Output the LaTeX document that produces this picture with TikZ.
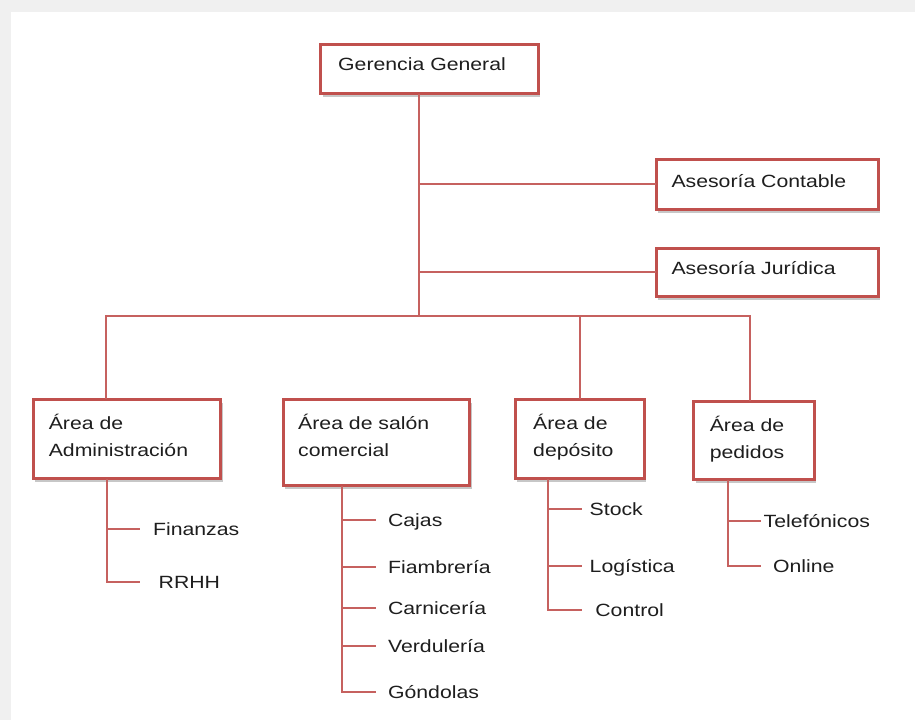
\documentclass[tikz,border=0pt]{standalone}
\usepackage{fontspec}
\setmainfont{Liberation Sans}[FakeStretch=1.2]
\usetikzlibrary{shadows}

\begin{document}
\begin{tikzpicture}[x=0.5pt,y=-0.5pt,line cap=rect,line join=miter,
  font=\fontsize{8.85pt}{13.3pt}\selectfont,
  unit/.style={draw=boxred,line width=1.5pt,fill=white,anchor=north west,
    inner ysep=0pt,align=left,text=inkc,
    drop shadow={shadow xshift=0.9pt,shadow yshift=-1.8pt,opacity=0.4,fill=black!55}},
  link/.style={draw=boxred!90,line width=1pt},
  tick/.style={link,shorten >=#1},
  item/.style={anchor=west,inner sep=0pt,text height=6.4pt,text depth=0pt,text=inkc}]

  \definecolor{boxred}{RGB}{192,80,77}
  \definecolor{inkc}{RGB}{30,30,30}
  \definecolor{pagegray}{RGB}{240,240,240}

  % ---- page ----
  \fill[pagegray] (0,0) rectangle (915,720);
  \fill[white] (11,12) rectangle (915,720);
  \useasboundingbox (0,0) rectangle (915,720);

  % ---- top level ----
  \node[unit,inner xsep=8.7pt,text width=91.45pt,text height=12.85pt,text depth=11.35pt]
    (gg) at (319.3,43.3) {Gerencia General};
  \node[unit,inner xsep=7.5pt,text width=96pt,text height=14pt,text depth=10.75pt]
    (cont) at (655,158) {Asesoría Contable};
  \node[unit,inner xsep=7.5pt,text width=96pt,text height=12.85pt,text depth=10.75pt]
    (jur) at (655,247.3) {Asesoría Jurídica};

  % ---- areas ----
  \node[unit,inner xsep=7.8pt,text width=78.2pt,text height=15pt,text depth=24.2pt]
    (adm) at (31.7,398.3) {Área de\\Administración};
  \node[unit,inner xsep=7.5pt,text width=78.3pt,text height=15pt,text depth=28pt]
    (sal) at (281.7,398.3) {Área de salón\\comercial};
  \node[unit,inner xsep=8.85pt,text width=46.65pt,text height=15pt,text depth=24.2pt]
    (dep) at (514,398.3) {Área de\\depósito};
  \node[unit,inner xsep=8pt,text width=44.2pt,text height=15pt,text depth=24.15pt]
    (ped) at (692.3,400) {Área de\\pedidos};

  % ---- main lines ----
  \coordinate (bus) at (418.5,316);
  \draw[link] (gg.south -| bus) -- (bus);
  \draw[link] (cont.west -| bus) -- (cont.west);
  \draw[link] (jur.west -| bus) -- (jur.west);
  \draw[link] ([xshift=-10.6pt]adm.north) |- (bus) -| ([xshift=-2.1pt]ped.north);
  \draw[link] (dep.north) -- (dep.north |- bus);

  % ---- administracion ----
  \coordinate (adm stem) at ([xshift=-10.25pt]adm.south);
  \node[item] (fin) at (152.7,529.3) {Finanzas};
  \node[item] (rrhh) at (158.3,582.3) {RRHH};
  \draw[tick=9.5pt] (adm stem) |- (rrhh.west);
  \draw[tick=6.7pt] (adm stem |- fin.west) -- (fin.west);

  % ---- salon comercial ----
  \coordinate (sal stem) at ([xshift=-17.15pt]sal.south);
  \foreach \n/\t/\y in {caj/Cajas/520,fia/Fiambrería/567.3,car/Carnicería/608.3,
      ver/Verdulería/645.7,gon/Góndolas/692.3}
    \node[item] (\n) at (387.7,\y) {\t};
  \draw[tick=6.35pt] (sal stem) |- (gon.west);
  \foreach \n in {caj,fia,car,ver}
    \draw[tick=6.35pt] (sal stem |- \n.west) -- (\n.west);

  % ---- deposito ----
  \coordinate (dep stem) at ([xshift=-15.8pt]dep.south);
  \node[item] (sto) at (589.3,509.3) {Stock};
  \node[item] (log) at (589.3,565.7) {Logística};
  \node[item] (con) at (595,610) {Control};
  \draw[tick=7.15pt] (dep stem) |- (con.west);
  \draw[tick=4.3pt] (dep stem |- sto.west) -- (sto.west);
  \draw[tick=4.3pt] (dep stem |- log.west) -- (log.west);

  % ---- pedidos ----
  \coordinate (ped stem) at ([xshift=-12.9pt]ped.south);
  \node[item] (tel) at (763.3,520.7) {Telefónicos};
  \node[item] (onl) at (772.7,566) {Online};
  \draw[tick=6.35pt] (ped stem) |- (onl.west);
  \draw[tick=1.65pt] (ped stem |- tel.west) -- (tel.west);
\end{tikzpicture}
\end{document}
